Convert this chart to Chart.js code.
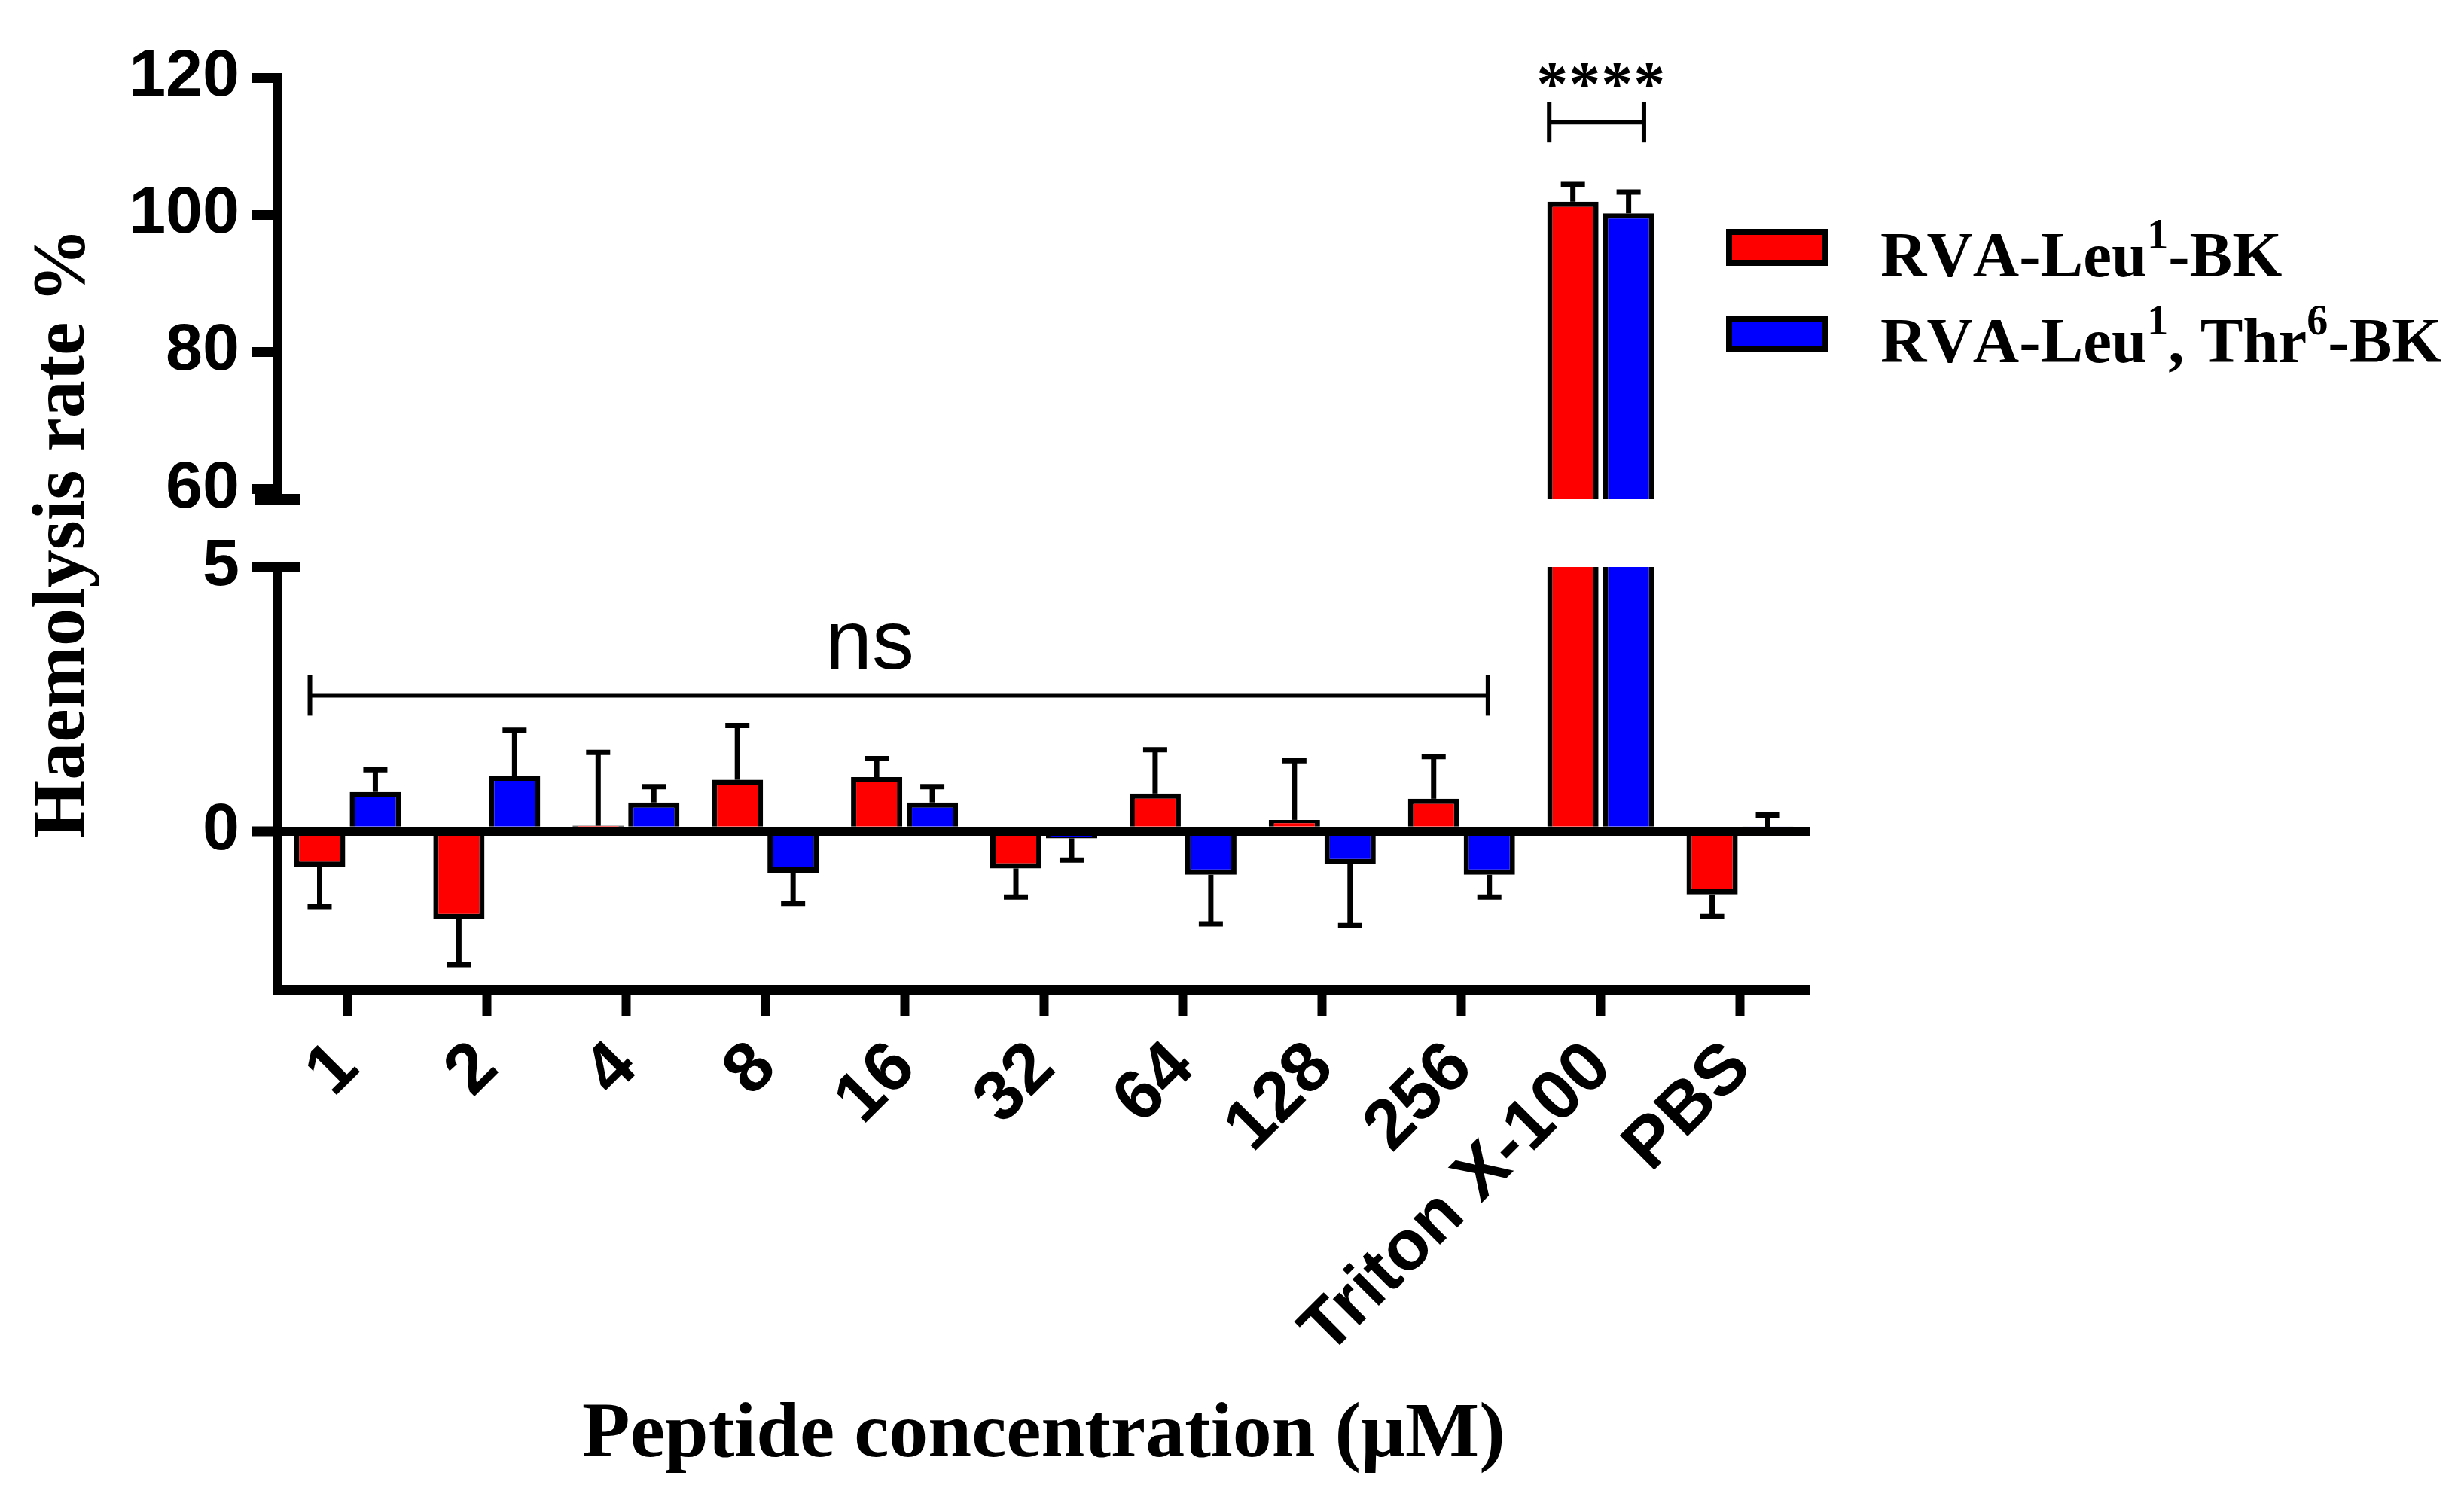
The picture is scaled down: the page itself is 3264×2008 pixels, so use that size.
<!DOCTYPE html>
<html>
<head>
<meta charset="utf-8">
<script src="https://cdn.jsdelivr.net/npm/chart.js@4.4.1/dist/chart.umd.min.js"></script>
<style>
html,body{margin:0;padding:0;background:#ffffff;}
#wrap{width:3264px;height:2008px;position:relative;}
</style>
</head>
<body>
<div id="wrap"><canvas id="c"></canvas></div>
<script>
// ---------- data ----------
const categories = ['1', '2', '4', '8', '16', '32', '64', '128', '256', 'Triton X-100', 'PBS'];
const seriesNames = ['RVA-Leu¹-BK', 'RVA-Leu¹, Thr⁶-BK'];
const redValues  = [-0.68, -1.67, 0.10, 0.97, 1.02, -0.71, 0.71, 0.21, 0.61, 101.9, -1.20];
const redErrors  = [0.75, 0.86, 1.39, 1.03, 0.35, 0.54, 0.83, 1.12, 0.80, 2.5, 0.42];
const blueValues = [0.74, 1.05, 0.54, -0.79, 0.54, -0.14, -0.83, -0.63, -0.83, 100.2, 0.03];
const blueErrors = [0.42, 0.86, 0.30, 0.58, 0.30, 0.41, 0.93, 1.16, 0.42, 3.1, 0.27];
const upperTicks = [60, 80, 100, 120];
const lowerTicks = [0, 5];
const upperRange = [58.5, 120];
const lowerRange = [-3, 5];
const xTitle = 'Peptide concentration (μM)';
const yTitle = 'Haemolysis rate %';
const nsLabel = 'ns';
const sigLabel = '****';

// ---------- styling constants ----------
const RED = '#FF0000', BLUE = '#0000FF', BLACK = '#000000';
const SANS = 'Liberation Sans', SERIF = 'Liberation Serif';
const BW = 7;

function lowerPart(vals) { return vals.map(v => Math.min(v, lowerRange[1])); }
function upperPart(vals) { return vals.map(v => v > upperRange[0] ? [upperRange[0], v] : null); }

const barCommon = {
  borderColor: BLACK,
  categoryPercentage: 0.80,
  barPercentage: 0.92
};

function lowerBorder(vals) {
  return c => (vals[c.dataIndex] > lowerRange[1] ? { left: BW, right: BW, top: 0, bottom: 0 } : BW);
}

const datasets = [
  Object.assign({ label: seriesNames[0], data: lowerPart(redValues), backgroundColor: RED, yAxisID: 'yBot', stack: 's0',
    borderWidth: lowerBorder(redValues), borderSkipped: 'start' }, barCommon),
  Object.assign({ label: seriesNames[1], data: lowerPart(blueValues), backgroundColor: BLUE, yAxisID: 'yBot', stack: 's1',
    borderWidth: lowerBorder(blueValues), borderSkipped: 'start' }, barCommon),
  Object.assign({ label: seriesNames[0], data: upperPart(redValues), backgroundColor: RED, yAxisID: 'yTop', stack: 's0',
    borderWidth: BW, borderSkipped: 'start' }, barCommon),
  Object.assign({ label: seriesNames[1], data: upperPart(blueValues), backgroundColor: BLUE, yAxisID: 'yTop', stack: 's1',
    borderWidth: BW, borderSkipped: 'start' }, barCommon)
];

const SUP = {'⁰':'0','¹':'1','²':'2','³':'3','⁴':'4','⁵':'5','⁶':'6','⁷':'7','⁸':'8','⁹':'9'};
function drawRich(ctx, text, x, y, size, supSize, rise) {
  let cx = x;
  for (const ch of text) {
    if (SUP[ch]) {
      ctx.font = 'bold ' + supSize + 'px "' + SERIF + '"';
      ctx.fillText(SUP[ch], cx, y - rise);
      cx += ctx.measureText(SUP[ch]).width;
    } else {
      ctx.font = 'bold ' + size + 'px "' + SERIF + '"';
      ctx.fillText(ch, cx, y);
      cx += ctx.measureText(ch).width;
    }
  }
}

function hLine(ctx, x0, x1, y, w) { ctx.lineWidth = w; ctx.beginPath(); ctx.moveTo(x0, y); ctx.lineTo(x1, y); ctx.stroke(); }
function vLine(ctx, x, y0, y1, w) { ctx.lineWidth = w; ctx.beginPath(); ctx.moveTo(x, y0); ctx.lineTo(x, y1); ctx.stroke(); }

const decor = {
  id: 'decor',
  afterDatasetsDraw(chart) {
    const ctx = chart.ctx;
    const yT = chart.scales.yTop, yB = chart.scales.yBot;
    const series = [
      { vals: redValues, errs: redErrors, ds: 0 },
      { vals: blueValues, errs: blueErrors, ds: 1 }
    ];
    ctx.save();
    ctx.strokeStyle = BLACK;
    ctx.lineCap = 'butt';
    series.forEach(s => {
      const meta = chart.getDatasetMeta(s.ds);
      s.vals.forEach((v, i) => {
        const el = meta.data[i];
        if (!el) return;
        const px = el.x;
        const sc = v > upperRange[0] ? yT : yB;
        const dir = v >= 0 ? 1 : -1;
        const p0 = sc.getPixelForValue(v);
        const p1 = sc.getPixelForValue(v + dir * s.errs[i]);
        vLine(ctx, px, p0, p1, 7);
        hLine(ctx, px - 16, px + 16, p1, 7);
      });
    });
    ctx.restore();
  },
  afterDraw(chart) {
    const ctx = chart.ctx;
    const x = chart.scales.x, yT = chart.scales.yTop, yB = chart.scales.yBot;
    const left = chart.chartArea.left;
    ctx.save();
    ctx.strokeStyle = BLACK;
    ctx.fillStyle = BLACK;
    // axis break marks
    hLine(ctx, left - 31, left + 30, yT.bottom, 14);
    hLine(ctx, left, left + 30, yB.getPixelForValue(lowerTicks[1]), 13);
    // ns bracket
    const ny = yB.getPixelForValue(2.57);
    const nx0 = x.getPixelForValue(-0.27), nx1 = x.getPixelForValue(8.19);
    hLine(ctx, nx0, nx1, ny, 6);
    vLine(ctx, nx0, ny - 27, ny + 27, 6);
    vLine(ctx, nx1, ny - 27, ny + 27, 6);
    ctx.font = '112px "' + SANS + '"';
    ctx.textAlign = 'center';
    ctx.textBaseline = 'alphabetic';
    ctx.fillText(nsLabel, x.getPixelForValue(3.75), yB.getPixelForValue(3.07));
    // **** bracket
    const sy = yT.getPixelForValue(113.5);
    const sx0 = x.getPixelForValue(9 - 0.37), sx1 = x.getPixelForValue(9 + 0.31);
    hLine(ctx, sx0, sx1, sy, 6);
    vLine(ctx, sx0, sy - 27, sy + 27, 6);
    vLine(ctx, sx1, sy - 27, sy + 27, 6);
    ctx.font = 'bold 84px "' + SERIF + '"';
    const starPitch = 43;
    const sc = x.getPixelForValue(9);
    for (let k = 0; k < sigLabel.length; k++) {
      ctx.fillText(sigLabel[k], sc + (k - (sigLabel.length - 1) / 2) * starPitch, yT.getPixelForValue(115.9));
    }
    // legend
    ctx.textAlign = 'left';
    const boxX = 2292, boxW = 135, boxH = 49, boxY = [304, 419], textX = 2497, base = [367, 481];
    [0, 1].forEach(i => {
      const ds = chart.data.datasets[i];
      ctx.fillStyle = BLACK;
      ctx.fillRect(boxX, boxY[i], boxW, boxH);
      ctx.fillStyle = ds.backgroundColor;
      ctx.fillRect(boxX + 8, boxY[i] + 8, boxW - 16, boxH - 16);
      ctx.fillStyle = BLACK;
      drawRich(ctx, ds.label, textX, base[i], 85, 56, 37);
    });
    ctx.restore();
  }
};

Chart.defaults.font.family = SANS;
Chart.defaults.color = BLACK;

const tickFont = { family: SANS, size: 88, weight: 'bold' };

new Chart(document.getElementById('c'), {
  type: 'bar',
  data: { labels: categories, datasets: datasets },
  plugins: [decor],
  options: {
    responsive: true,
    maintainAspectRatio: false,
    devicePixelRatio: 1,
    animation: false,
    layout: { padding: { top: 103, right: 861, left: 0, bottom: 0 } },
    plugins: { legend: { display: false }, tooltip: { enabled: false } },
    scales: {
      x: {
        type: 'category',
        offset: true,
        grid: { display: true, drawOnChartArea: false, offset: false, drawTicks: true, tickLength: 35, tickWidth: 12, tickColor: BLACK, color: BLACK },
        border: { display: true, width: 13, color: BLACK },
        ticks: { font: { family: SANS, size: 94, weight: 'bold' }, color: BLACK, minRotation: 45, maxRotation: 45, autoSkip: false, padding: 14 },
        title: { display: true, text: xTitle, font: { family: SERIF, size: 104, weight: 'bold' }, color: BLACK, padding: { top: 0, bottom: 38 } },
        afterFit: s => { s.height = 694; }
      },
      yTop: {
        type: 'linear', position: 'left', stack: 'y', stackWeight: 560, weight: 3, stacked: false,
        min: upperRange[0], max: upperRange[1],
        afterBuildTicks: s => { s.ticks = upperTicks.map(v => ({ value: v })); },
        grid: { display: true, drawOnChartArea: false, drawTicks: true, tickLength: 35, tickWidth: 13, tickColor: BLACK },
        border: { display: true, width: 12, color: BLACK },
        ticks: { font: tickFont, color: BLACK, padding: 16 },
        afterFit: s => { s.width = 369; }
      },
      yGap: {
        type: 'linear', position: 'left', stack: 'y', stackWeight: 90, weight: 2,
        grid: { display: false },
        border: { display: false },
        ticks: { display: false },
        title: { display: true, text: yTitle, font: { family: SERIF, size: 100, weight: 'bold' }, color: BLACK, padding: { top: 25, bottom: 0 } },
        afterFit: s => { s.width = 369; }
      },
      yBot: {
        type: 'linear', position: 'left', stack: 'y', stackWeight: 561, weight: 1, stacked: false,
        min: lowerRange[0], max: lowerRange[1],
        afterBuildTicks: s => { s.ticks = lowerTicks.map(v => ({ value: v })); },
        grid: {
          display: true, drawOnChartArea: true, drawTicks: true, z: 1,
          color: c => (c.tick && c.tick.value === 0 ? BLACK : 'rgba(0,0,0,0)'),
          lineWidth: 12, tickLength: 35, tickWidth: 13, tickColor: BLACK
        },
        border: { display: true, width: 12, color: BLACK, z: 1 },
        ticks: { font: tickFont, color: BLACK, padding: 16 },
        afterFit: s => { s.width = 369; }
      }
    }
  }
});
</script>
</body>
</html>
